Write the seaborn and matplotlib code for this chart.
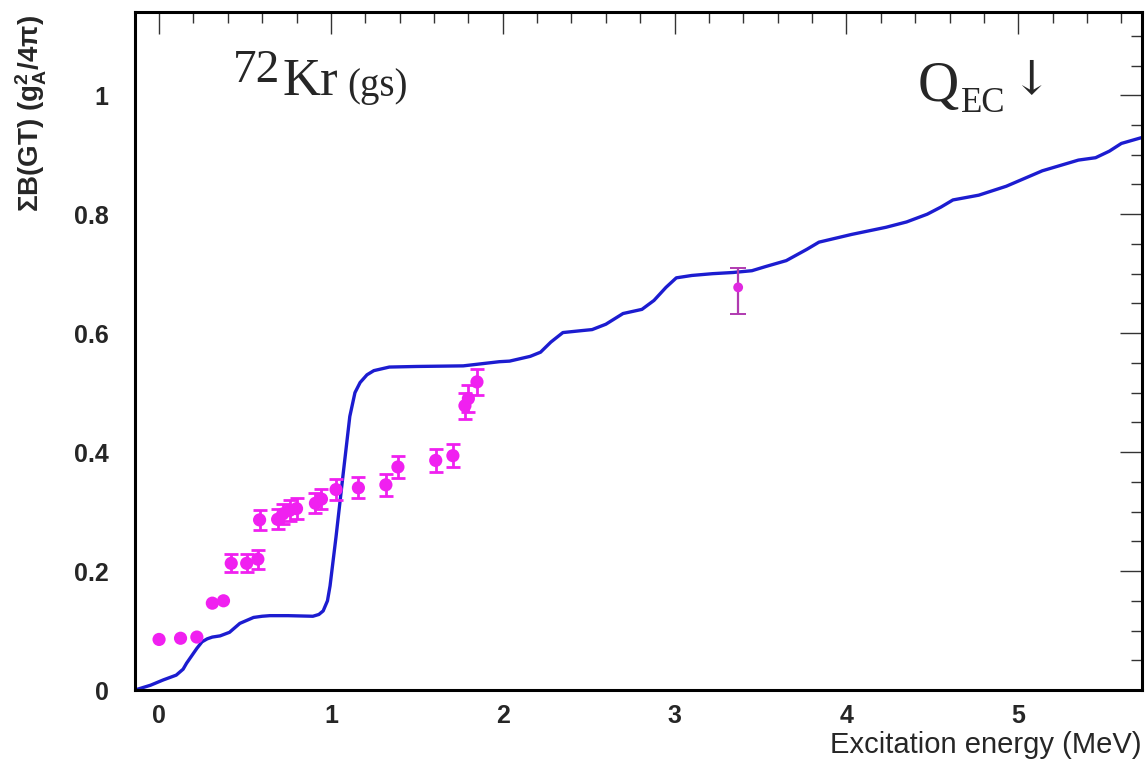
import matplotlib
matplotlib.use('Agg')
import matplotlib.pyplot as plt
import seaborn as sns
import numpy as np
import pandas as pd
from matplotlib.ticker import MultipleLocator

# ---------------- data ----------------
curve_x = [-0.14, -0.05, 0.025, 0.10, 0.14, 0.16, 0.22, 0.25, 0.28, 0.31, 0.355, 0.41, 0.47,
           0.51, 0.55, 0.60, 0.645, 0.75, 0.895, 0.93, 0.955, 0.98, 0.995, 1.03, 1.07, 1.11,
           1.14, 1.17, 1.21, 1.25, 1.34, 1.50, 1.77, 1.98, 2.04, 2.16, 2.22, 2.28, 2.35, 2.45,
           2.52, 2.60, 2.70, 2.81, 2.88, 2.95, 3.01, 3.10, 3.22, 3.34, 3.45, 3.53, 3.65, 3.77,
           3.84, 4.03, 4.23, 4.35, 4.47, 4.55, 4.62, 4.77, 4.93, 5.14, 5.35, 5.45, 5.53, 5.60,
           5.72]
curve_y = [0.0, 0.008, 0.017, 0.025, 0.035, 0.045, 0.07, 0.081, 0.086, 0.089, 0.091, 0.097, 0.112,
           0.117, 0.122, 0.124, 0.125, 0.125, 0.124, 0.127, 0.133, 0.15, 0.175, 0.258, 0.36, 0.46,
           0.50, 0.517, 0.53, 0.537, 0.543, 0.544, 0.545, 0.552, 0.553, 0.561, 0.568, 0.585, 0.601,
           0.604, 0.606, 0.615, 0.633, 0.640, 0.655, 0.677, 0.693, 0.697, 0.700, 0.702, 0.705,
           0.712, 0.722, 0.741, 0.753, 0.766, 0.778, 0.787, 0.800, 0.812, 0.824, 0.832, 0.847,
           0.873, 0.891, 0.895, 0.906, 0.919, 0.929]

exp_x = [0.0, 0.125, 0.22, 0.31, 0.375, 0.42, 0.51, 0.575, 0.585, 0.69, 0.72, 0.76, 0.80,
         0.91, 0.945, 1.03, 1.16, 1.32, 1.39, 1.61, 1.71, 1.78, 1.80, 1.85]
exp_y = [0.085, 0.087, 0.089, 0.146, 0.150, 0.213, 0.213, 0.220, 0.286, 0.287, 0.296, 0.302,
         0.305, 0.314, 0.321, 0.337, 0.340, 0.345, 0.375, 0.386, 0.394, 0.478, 0.490, 0.518]
exp_err = [0, 0, 0, 0, 0, 0.015, 0.015, 0.016, 0.017, 0.017, 0.017, 0.017, 0.017, 0.017,
           0.017, 0.018, 0.018, 0.018, 0.018, 0.019, 0.019, 0.022, 0.022, 0.022]

qec_x = [3.37]
qec_y = [0.677]
qec_err_low = [0.044]
qec_err_high = [0.033]

xticks = [0, 1, 2, 3, 4, 5]
xtick_labels = ['0', '1', '2', '3', '4', '5']
yticks = [0, 0.2, 0.4, 0.6, 0.8, 1.0]
ytick_labels = ['0', '0.2', '0.4', '0.6', '0.8', '1']

# ---------------- style ----------------
sns.set_theme(style='white')
plt.rcParams['font.family'] = ['Liberation Sans', 'DejaVu Sans']
plt.rcParams['mathtext.fontset'] = 'custom'
plt.rcParams['mathtext.rm'] = 'Liberation Sans:bold'
plt.rcParams['mathtext.it'] = 'Liberation Sans:bold'
plt.rcParams['mathtext.bf'] = 'Liberation Sans:bold'

W, H = 1148, 776
fig = plt.figure(figsize=(W / 100, H / 100), dpi=100)
fig.patch.set_facecolor('white')
ax = fig.add_axes([135 / W, 1 - 690 / H, (1142 - 135) / W, (690 - 12) / H])
ax.set_facecolor('white')

blue = '#1c1cd0'
mag = '#f020f0'

curve_df = pd.DataFrame({'E': curve_x, 'B': curve_y})
sns.lineplot(data=curve_df, x='E', y='B', ax=ax, color=blue, lw=2.4,
             sort=False, estimator=None, zorder=2)

exp_df = pd.DataFrame({'E': exp_x, 'B': exp_y, 'err': exp_err})
with_err = exp_df[exp_df['err'] > 0]
ax.errorbar(with_err['E'], with_err['B'], yerr=with_err['err'], fmt='none',
            ecolor=mag, elinewidth=2.0, capsize=5, capthick=2.0, zorder=3)
sns.scatterplot(data=exp_df, x='E', y='B', ax=ax, color=mag, s=90,
                edgecolor='none', linewidth=0, zorder=4)

ax.errorbar(qec_x, qec_y, yerr=[qec_err_low, qec_err_high], fmt='none',
            ecolor='#b03ab0', elinewidth=1.6, capsize=6, capthick=1.4, zorder=3)
sns.scatterplot(x=qec_x, y=qec_y, ax=ax, color='#e028e0', s=50,
                edgecolor='none', linewidth=0, zorder=4)

# ---------------- axes ----------------
ax.set_xlim(-0.14, 5.72)
ax.set_ylim(0, 1.14)
ax.set_xticks(xticks, labels=xtick_labels)
ax.set_yticks(yticks, labels=ytick_labels)
ax.xaxis.set_minor_locator(MultipleLocator(0.2))
ax.yaxis.set_minor_locator(MultipleLocator(0.05))
ax.tick_params(which='both', direction='in', top=True, right=True,
               color='#333333', width=1.0)
ax.tick_params(which='major', length=16)
ax.tick_params(which='minor', length=8)
ax.tick_params(axis='y', which='major', pad=19, labelsize=18)
ax.tick_params(axis='x', which='major', pad=10, labelsize=18)
for lab in ax.get_xticklabels() + ax.get_yticklabels():
    lab.set_fontweight('bold')
for sp in ax.spines.values():
    sp.set_linewidth(2.2)
    sp.set_color('black')
    sp.set_visible(True)

ax.set_xlabel('Excitation energy (MeV)', fontsize=21, ha='right', va='top')
ax.xaxis.set_label_coords(1.0, (690 - 731) / 678)
ax.set_ylabel('ΣB(GT) (g$^{2}_{A}$/4π)', fontsize=20, fontweight='bold', loc='top')
ax.yaxis.set_label_coords((49 - 135) / 1007, 0.995)

serif = ['Liberation Serif', 'DejaVu Serif']
fig.text(233 / W, 1 - 82 / H, '72', fontsize=34, family=serif, va='baseline', ha='left')
fig.text(283 / W, 1 - 95 / H, 'Kr', fontsize=38, family=serif, va='baseline', ha='left')
fig.text(347 / W, 1 - 96 / H, '(gs)', fontsize=28, family=serif, va='baseline', ha='left')
fig.text(918 / W, 1 - 101 / H, 'Q', fontsize=41, family=serif, va='baseline', ha='left')
fig.text(961 / W, 1 - 112 / H, 'EC', fontsize=25, family=serif, va='baseline', ha='left')
fig.text(1012 / W, 1 - 93 / H, '↓', fontsize=34, family=['DejaVu Serif'], va='baseline', ha='left')

fig.savefig('out.png', dpi=100, facecolor='white')
